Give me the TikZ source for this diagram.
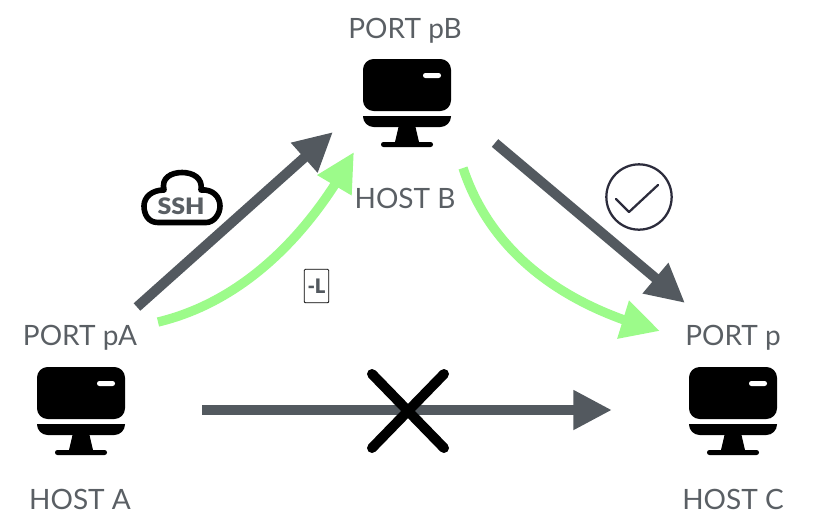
\documentclass[tikz,border=0pt]{standalone}
\usepackage{fontspec}
\setmainfont{Lato}
\newfontfamily\heavyfont[UprightFont=* Black]{Lato}
\usetikzlibrary{arrows.meta,bending}
\definecolor{linkgrey}{HTML}{53595F}
\definecolor{sshgreen}{HTML}{9CFB8A}
\definecolor{labelgrey}{HTML}{5A5F64}
\definecolor{tickink}{HTML}{2C2C3C}

\begin{document}
\begin{tikzpicture}[x=0.75pt,y=-0.75pt]
\tikzstyle{link}=[line width=7.5pt,draw=linkgrey,fill=linkgrey,-{Triangle[length=29pt,width=28pt]}]
\tikzstyle{tunnel}=[line width=7pt,draw=sshgreen,-{Triangle[length=29pt,width=28pt]}]
\tikzstyle{hostlabel}=[text=labelgrey,font=\fontsize{21}{25}\selectfont,inner sep=0pt]
\tikzstyle{crossbar}=[black,line width=7.5pt,line cap=round]
\tikzset{monitor/.pic={
  \fill [black,rounded corners=8pt] (-44,-44) -- (44,-44) -- (44,8) -- (-44,8) -- cycle;
  \fill [black] (-44,13) -- (44,13) [rounded corners=8pt] -- (44,24) -- (-44,24) [sharp corners] -- cycle;
  \fill [black] (-8,22) -- (8,22) -- (12,39) -- (-12,39) -- cycle;
  \fill [black,rounded corners=1.8pt] (-26,39) rectangle (26,44);
  \fill [white,rounded corners=1.8pt] (16,-30) rectangle (34,-25);
}}

\useasboundingbox (0,0) rectangle (817,526);

\pic at (81,411) {monitor};
\pic at (407,103) {monitor};
\pic at (733,411) {monitor};

\node (portB) at (405,31) [hostlabel] {PORT pB};
\node (hostB) at (405,198) [hostlabel] {HOST B};
\node (portA) at (80,338) [hostlabel] {PORT pA};
\node (hostA) at (80,499) [hostlabel] {HOST A};
\node (portC) at (733,338) [hostlabel] {PORT p};
\node (hostC) at (733,499) [hostlabel] {HOST C};

\coordinate (sshA) at (137,307);
\coordinate (sshB) at (333,132);
\coordinate (outB) at (495,143);
\coordinate (inC) at (685,303);
\coordinate (outA) at (202,410);
\coordinate (noC) at (612,410);
\coordinate (tunA) at (158,322);
\coordinate (tunB) at (354,152);
\coordinate (fwdB) at (463,168);
\coordinate (fwdC) at (660,331);

\draw [link] (sshA) -- (sshB);
\draw [link] (outB) -- (inC);
\draw [link] (outA) -- (noC);
\draw [tunnel] (tunA) .. controls (250,300) and (315,225) .. (tunB);
\draw [tunnel] (fwdB) .. controls (490,250) and (560,305) .. (fwdC);

% blocked
\draw [crossbar] (372,374) -- (444,448);
\draw [crossbar] (444,374) -- (372,448);

% cloud
\draw [black,line width=4.2pt,line join=round] (158,222.5) .. controls (148,222.5) and (144,214) .. (144,206)
  .. controls (144,197) and (152,190) .. (164,190)
  .. controls (161,178) and (171,172.5) .. (182,172.5)
  .. controls (193,172.5) and (203,178) .. (201,190)
  .. controls (213,189) and (220,197) .. (220,206)
  .. controls (220,214) and (214,222.5) .. (206,222.5) -- cycle;
\node (sshtag) at (181,206) [xscale=1.1,text=labelgrey,font=\fontsize{17}{20}\heavyfont,inner sep=0pt] {SSH};

% -L flag
\node (flagL) at (316.5,286) [draw=black,line width=0.6pt,rounded corners=0.8pt,minimum width=18.5pt,minimum height=25pt,inner sep=0pt,text=linkgrey,font=\fontsize{15}{18}\heavyfont] {-L};

% check
\node (okmark) at (639,197) [circle,draw=tickink,line width=1.7pt,minimum size=49pt,inner sep=0pt] {};
\draw [tickink,line width=1.7pt,line cap=round,line join=round] (616,199) -- (629,212) -- (658,185);
\end{tikzpicture}
\end{document}
